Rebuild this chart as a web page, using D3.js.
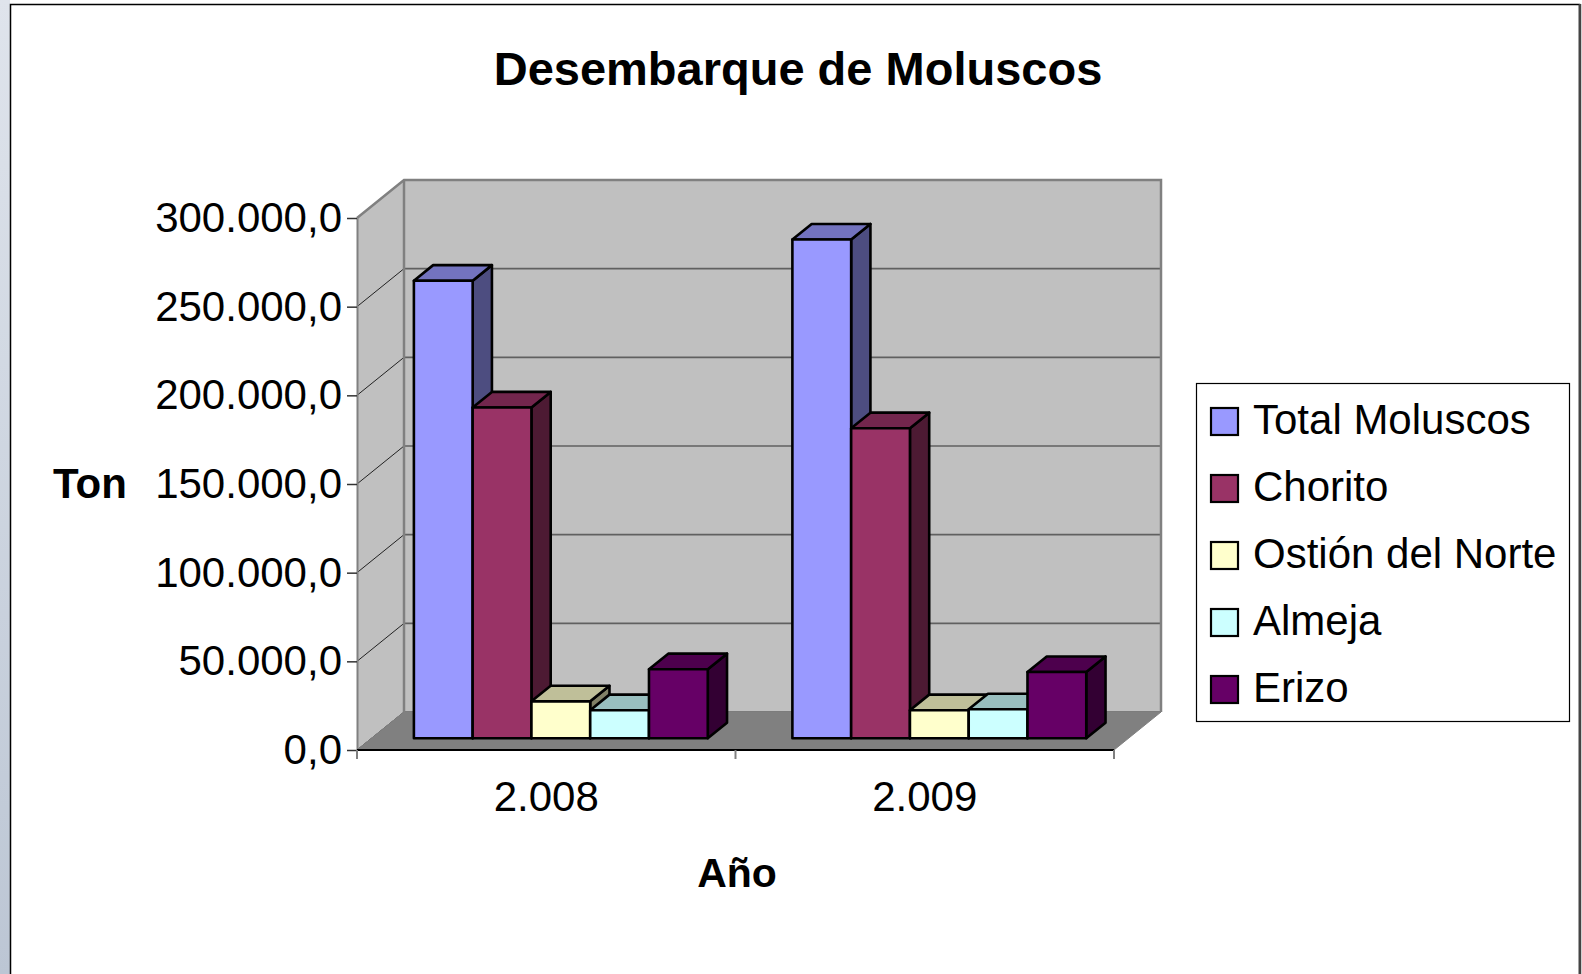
<!DOCTYPE html>
<html>
<head>
<meta charset="utf-8">
<script src="https://cdn.jsdelivr.net/npm/d3@7"></script>
<style>
  body { margin: 0; background: #fff; }
  text { font-family: "Liberation Sans", Arial, sans-serif; fill: #000; }
</style>
</head>
<body>
<script>
// data
var years = ["2.008", "2.009"];
var series = ["Total Moluscos", "Chorito", "Ostión del Norte", "Almeja", "Erizo"];
var values2008 = [258000, 186500, 20800, 15800, 38900];
var values2009 = [281200, 174800, 15800, 16300, 37300];
var yTicks = [0, 50000, 100000, 150000, 200000, 250000, 300000];
var colors = ["#9999ff", "#993366", "#ffffcc", "#ccffff", "#660066"];

var rows = [values2008, values2009];

var svgWidth = 1582;
var svgHeight = 974;

// front plane of the plot and the depth vector of the 3d box
var front = { left: 357, right: 1114, top: 218, bottom: 750 };
var depth = { x: 47, y: -38 };
var barFront = 0.31, barBack = 0.72;

var svg = d3.select("body")
    .append("svg")
    .attr("width", svgWidth)
    .attr("height", svgHeight);

// window strip + frame
var grad = svg.append("defs").append("linearGradient")
    .attr("id", "strip").attr("x1", 0).attr("y1", 0).attr("x2", 0).attr("y2", 1);
grad.append("stop").attr("offset", "0%").attr("stop-color", "#dfe4ec");
grad.append("stop").attr("offset", "100%").attr("stop-color", "#bcc6d4");
svg.append("rect").attr("x", 0).attr("y", 0).attr("width", 10).attr("height", svgHeight)
    .attr("fill", "url(#strip)");
svg.append("rect")
    .attr("x", 10.5).attr("y", 4.5)
    .attr("width", 1569).attr("height", svgHeight + 20)
    .attr("fill", "#fff")
    .attr("stroke", "#000")
    .attr("stroke-width", 1.5);
svg.append("line")
    .attr("x1", 1580).attr("x2", 1580).attr("y1", 4).attr("y2", svgHeight)
    .attr("stroke", "#444").attr("stroke-width", 2.5);

var fmt = d3.formatLocale({ decimal: ",", thousands: ".", grouping: [3], currency: ["", ""] }).format(",.1f");

var yScale = d3.scaleLinear()
    .domain([0, 300000])
    .range([front.bottom, front.top]);

var xBand = d3.scaleBand()
    .domain(years)
    .range([front.left, front.right]);

var inner = d3.scaleBand()
    .domain(series)
    .range([0, xBand.bandwidth()])
    .paddingOuter(0.72);

var pt = (x, y) => x + "," + y;

// back wall
svg.append("rect")
    .attr("x", front.left + depth.x)
    .attr("y", front.top + depth.y)
    .attr("width", front.right - front.left)
    .attr("height", front.bottom - front.top)
    .attr("fill", "#c0c0c0");

// left wall
svg.append("polygon")
    .attr("points", [
        pt(front.left, front.top),
        pt(front.left + depth.x, front.top + depth.y),
        pt(front.left + depth.x, front.bottom + depth.y),
        pt(front.left, front.bottom)
    ].join(" "))
    .attr("fill", "#c0c0c0");

// gridlines
yTicks.forEach(function (v) {
    var y = yScale(v);
    svg.append("line")
        .attr("x1", front.left + depth.x).attr("x2", front.right + depth.x)
        .attr("y1", y + depth.y).attr("y2", y + depth.y)
        .attr("stroke", "#606060").attr("stroke-width", 1.6);
    svg.append("line")
        .attr("x1", front.left).attr("x2", front.left + depth.x)
        .attr("y1", y).attr("y2", y + depth.y)
        .attr("stroke", "#222").attr("stroke-width", 1);
});

// wall edges
svg.append("path")
    .attr("d", "M" + pt(front.left, front.top) +
        "L" + pt(front.left + depth.x, front.top + depth.y) +
        "L" + pt(front.right + depth.x, front.top + depth.y) +
        "L" + pt(front.right + depth.x, front.bottom + depth.y) +
        "M" + pt(front.left + depth.x, front.top + depth.y) +
        "L" + pt(front.left + depth.x, front.bottom + depth.y))
    .attr("fill", "none")
    .attr("stroke", "#808080")
    .attr("stroke-width", 2.5);

// floor
svg.append("polygon")
    .attr("points", [
        pt(front.left, front.bottom),
        pt(front.left + depth.x, front.bottom + depth.y),
        pt(front.right + depth.x, front.bottom + depth.y),
        pt(front.right, front.bottom)
    ].join(" "))
    .attr("fill", "#808080")
    .attr("stroke", "#808080")
    .attr("stroke-width", 1);

// bars
var fx = depth.x * barFront, fy = depth.y * barFront;
var bx = depth.x * barBack - fx, by = depth.y * barBack - fy;

function shade(c, k) {
    var r = d3.rgb(c);
    return d3.rgb(r.r * k, r.g * k, r.b * k).formatHex();
}

var barData = [];
years.forEach(function (yr, i) {
    series.forEach(function (s, j) {
        barData.push({ year: yr, series: s, value: rows[i][j], color: colors[j] });
    });
});

var bars = svg.append("g").selectAll("g")
    .data(barData)
    .enter()
    .append("g")
    .attr("stroke", "#000")
    .attr("stroke-width", 2.6)
    .attr("stroke-linejoin", "round");

bars.each(function (d) {
    var g = d3.select(this);
    var x0 = xBand(d.year) + inner(d.series) + fx;
    var x1 = x0 + inner.bandwidth();
    var yt = yScale(d.value) + fy;
    var yb = yScale(0) + fy;
    g.append("polygon")
        .attr("points", [pt(x1, yt), pt(x1 + bx, yt + by), pt(x1 + bx, yb + by), pt(x1, yb)].join(" "))
        .attr("fill", shade(d.color, 0.5));
    g.append("polygon")
        .attr("points", [pt(x0, yt), pt(x0 + bx, yt + by), pt(x1 + bx, yt + by), pt(x1, yt)].join(" "))
        .attr("fill", shade(d.color, 0.75));
    g.append("rect")
        .attr("x", x0).attr("y", yt)
        .attr("width", x1 - x0).attr("height", yb - yt)
        .attr("fill", d.color);
});

// axes
var leftAxis = d3.axisLeft(yScale)
    .tickValues(yTicks)
    .tickFormat(fmt)
    .tickSize(10)
    .tickSizeOuter(0)
    .tickPadding(5);

var yAxisG = svg.append("g")
    .attr("transform", "translate(" + front.left + ",0)")
    .call(leftAxis);
yAxisG.select(".domain").attr("stroke", "#808080").attr("stroke-width", 2);
yAxisG.selectAll(".tick line").attr("stroke", "#333").attr("stroke-width", 1.5);
yAxisG.selectAll("text")
    .attr("font-size", 42)
    .attr("font-family", "Liberation Sans, Arial, sans-serif")
    .attr("fill", "#000");

var bottomAxis = d3.axisBottom(xBand).tickSize(0).tickPadding(31);
var xAxisG = svg.append("g")
    .attr("transform", "translate(0," + front.bottom + ")")
    .call(bottomAxis);
xAxisG.select(".domain").remove();
xAxisG.selectAll("text")
    .attr("font-size", 42)
    .attr("font-family", "Liberation Sans, Arial, sans-serif")
    .attr("fill", "#000");

svg.append("line")
    .attr("x1", front.left).attr("x2", front.right)
    .attr("y1", front.bottom).attr("y2", front.bottom)
    .attr("stroke", "#000").attr("stroke-width", 2);

var edges = years.map(d => xBand(d)).concat([xBand.range()[1]]);
svg.selectAll(".xtick")
    .data(edges)
    .enter()
    .append("line")
    .attr("class", "xtick")
    .attr("x1", d => d).attr("x2", d => d)
    .attr("y1", front.bottom).attr("y2", front.bottom + 9)
    .attr("stroke", "#808080").attr("stroke-width", 2);

// titles
svg.append("text")
    .attr("x", 798).attr("y", 85)
    .attr("text-anchor", "middle")
    .attr("font-size", 47)
    .attr("font-weight", "bold")
    .text("Desembarque de Moluscos");

svg.append("text")
    .attr("x", 53).attr("y", 498)
    .attr("font-size", 42)
    .attr("font-weight", "bold")
    .text("Ton");

svg.append("text")
    .attr("x", 737).attr("y", 887)
    .attr("text-anchor", "middle")
    .attr("font-size", 41)
    .attr("font-weight", "bold")
    .text("Año");

// legend
var legend = svg.append("g").attr("transform", "translate(1196,383)");
legend.append("rect")
    .attr("x", 0.5).attr("y", 0.5)
    .attr("width", 373).attr("height", 338)
    .attr("fill", "#fff")
    .attr("stroke", "#000")
    .attr("stroke-width", 1.2);

var item = legend.selectAll(".item")
    .data(series)
    .enter()
    .append("g")
    .attr("class", "item")
    .attr("transform", (d, i) => "translate(0," + (38.5 + i * 67) + ")");

item.append("rect")
    .attr("x", 15).attr("y", -13.5)
    .attr("width", 27).attr("height", 27)
    .attr("fill", (d, i) => colors[i])
    .attr("stroke", "#000")
    .attr("stroke-width", 2.2);

item.append("text")
    .attr("x", 57).attr("y", 12)
    .attr("font-size", 42)
    .text(d => d);
</script>
</body>
</html>
